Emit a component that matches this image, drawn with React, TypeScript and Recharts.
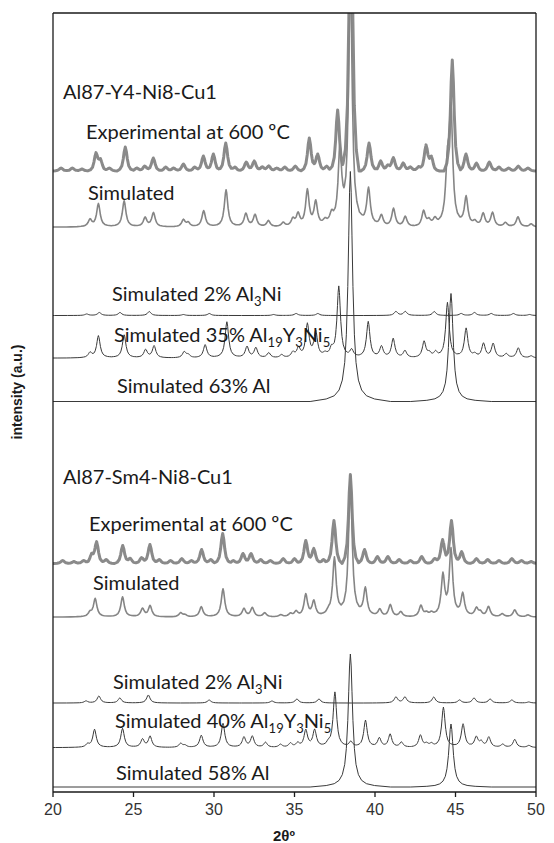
import React from "react";
import { LineChart, Line, XAxis, YAxis, ReferenceLine } from "recharts";

// peak lists: [2θ, height above the trace's own baseline]
const EXP_Y: [number, number][] = [
  [20.5, 3], [21.2, 3], [21.8, 2], [22.67, 17], [22.95, 10], [23.5, 3], [24.49, 24], [25.2, 3],
  [25.7, 5], [26.23, 13], [27.0, 4], [27.5, 3], [28.1, 7], [28.8, 4], [29.34, 15], [29.96, 17],
  [30.73, 28], [31.3, 4], [32.0, 9], [32.5, 10], [33.0, 4], [33.4, 5], [33.9, 3], [34.4, 4],
  [35.05, 5], [35.92, 33], [36.44, 17], [37.0, 5], [37.68, 61], [38.5, 300], [39.63, 28],
  [40.35, 10], [40.8, 5], [41.14, 13], [41.75, 8], [42.2, 4], [42.7, 4], [43.17, 25], [43.5, 13],
  [44.8, 111], [45.65, 17], [46.3, 8], [47.1, 9], [47.7, 4], [48.3, 3], [48.9, 5], [49.5, 3],
];
const SIM_Y: [number, number][] = [
  [22.3, 7], [22.82, 23], [24.42, 26], [25.72, 9], [26.24, 14], [28.1, 7], [28.4, 4], [29.36, 16],
  [30.75, 37], [31.98, 13], [32.55, 12], [33.38, 6], [34.3, 4], [34.9, 7], [35.22, 12], [35.8, 36],
  [36.32, 24], [36.9, 4], [37.3, 9], [37.82, 72], [38.47, 250], [39.6, 36], [40.4, 11], [41.15, 18],
  [41.88, 10], [43.02, 15], [43.35, 5], [43.72, 6], [44.5, 52], [44.72, 110], [45.66, 28], [46.2, 4],
  [46.72, 13], [47.3, 14], [48.1, 4], [48.88, 10], [49.7, 3],
];
const AL3NI_Y: [number, number][] = [
  [22.09, 1.5], [22.88, 3], [24.16, 3], [25.98, 4], [28.1, 1], [29.71, 2], [33.7, 1], [35.1, 2],
  [36.45, 2], [41.3, 4], [41.88, 4], [43.68, 4], [45.35, 2], [46.18, 3], [47.22, 2], [48.6, 2], [49.6, 1],
];
const PHASE35_Y: [number, number][] = [
  [22.3, 5], [22.82, 22], [24.42, 23], [25.75, 8], [26.28, 12], [28.15, 6], [28.4, 3], [29.45, 13],
  [30.8, 36], [32.05, 11], [32.6, 10], [33.4, 5], [34.2, 3], [34.9, 5], [35.25, 9], [35.8, 33],
  [36.32, 25], [36.9, 3], [37.3, 7], [37.75, 71], [38.55, 7], [39.58, 36], [40.4, 11], [41.13, 19],
  [41.86, 7], [43.05, 16], [43.37, 4], [43.76, 5], [44.5, 55], [45.66, 29], [46.2, 3], [46.74, 14],
  [47.34, 14], [48.15, 4], [48.9, 10], [49.7, 2],
];
const AL63_Y: [number, number][] = [[38.47, 230], [44.72, 108]];

const EXP_SM: [number, number][] = [
  [20.6, 3], [21.3, 2], [21.9, 3], [22.4, 8], [22.71, 21], [23.3, 4], [24.33, 18], [24.8, 5],
  [25.5, 6], [26.02, 19], [26.6, 4], [27.3, 3], [28.0, 5], [28.6, 3], [29.23, 14], [29.8, 4],
  [30.54, 30], [31.2, 3], [31.8, 10], [32.3, 10], [32.9, 4], [33.5, 3], [34.3, 5], [35.0, 5],
  [35.7, 23], [36.2, 15], [36.8, 4], [37.45, 43], [38.47, 89], [39.35, 14], [40.15, 7], [40.8, 7],
  [41.5, 4], [42.2, 3], [42.9, 7], [43.7, 5], [44.2, 24], [44.75, 43], [45.38, 12], [46.3, 5],
  [47.0, 4], [47.7, 3], [48.5, 5], [49.1, 3], [49.7, 2],
];
const SIM_SM: [number, number][] = [
  [22.3, 4], [22.62, 18], [24.32, 20], [25.56, 8], [26.03, 11], [27.93, 4], [28.2, 2], [29.21, 10],
  [30.56, 28], [31.86, 8], [32.38, 9], [33.15, 4], [34.15, 2], [34.75, 3], [35.1, 5], [35.7, 22],
  [36.2, 15], [37.1, 3], [37.48, 57], [38.47, 140], [39.4, 27], [40.3, 7], [40.95, 12], [41.6, 5],
  [42.85, 11], [43.2, 3], [43.5, 3], [44.22, 40], [44.72, 66], [45.45, 22], [46.3, 8], [46.55, 4],
  [47.05, 10], [47.9, 3], [48.68, 7], [49.5, 2],
];
const AL3NI_SM: [number, number][] = [
  [22.05, 2], [22.85, 7], [24.15, 5], [25.92, 8], [29.7, 3], [33.6, 2], [35.15, 4], [36.52, 4],
  [41.3, 6], [41.86, 6], [43.65, 6], [45.25, 3], [46.15, 5], [47.15, 4], [48.5, 3], [49.55, 1],
];
const PHASE40_SM: [number, number][] = [
  [22.15, 3], [22.58, 18], [24.32, 19], [25.56, 8], [26.03, 11], [27.93, 4], [28.2, 2], [29.21, 12],
  [30.56, 24], [31.86, 10], [32.38, 11], [33.2, 5], [34.13, 3], [34.75, 4], [35.2, 4], [35.7, 17],
  [36.25, 17], [37.1, 3], [37.51, 55], [38.5, 5], [39.41, 27], [40.27, 9], [40.94, 13], [41.64, 5],
  [42.82, 12], [43.2, 3], [43.5, 3], [44.25, 40], [45.47, 23], [46.29, 10], [46.6, 5], [47.07, 10],
  [47.93, 3], [48.68, 8], [49.56, 2],
];
const AL58_SM: [number, number][] = [[38.47, 133], [44.72, 63]];

// vertical offsets of the stacked patterns (same units as the y axis)
const OFFSETS = [621, 565, 476.5, 434, 390.5, 228.5, 175, 89, 44.5, 5];
const X_TICKS = [20, 25, 30, 35, 40, 45, 50];
const Y_MAX = 779;

// peak profiles (offset in degrees, fraction of the peak height)
const SHARP_D = [0, 0.05, 0.1, 0.16, 0.25, 0.35, 0.5, 0.7, 1.0, 1.5, 2.5];
const SHARP_F = [1, 0.91, 0.72, 0.5, 0.29, 0.17, 0.093, 0.05, 0.025, 0.011, 0];
const BROAD_D = [0, 0.08, 0.15, 0.25, 0.4, 0.6];
const BROAD_F = [1, 0.8, 0.5, 0.22, 0.07, 0];

function shape(d: number, D: number[], F: number[]) {
  const a = Math.abs(d);
  if (a >= D[D.length - 1]) return 0;
  let i = 0;
  while (D[i + 1] <= a) i++;
  const t = (a - D[i]) / (D[i + 1] - D[i]);
  return F[i] + (F[i + 1] - F[i]) * t;
}

function trace(peaks: [number, number][], base: number, D: number[], F: number[], s: number) {
  const xs = new Set<number>([20, 50]);
  peaks.forEach(([p]) => {
    D.forEach((d) => {
      [p - d * s, p + d * s].forEach((x) => {
        if (x >= 20 && x <= 50) xs.add(Math.round(x * 1000) / 1000);
      });
    });
  });
  return Array.from(xs)
    .sort((a, b) => a - b)
    .map((x) => ({
      x,
      y: base + peaks.reduce((acc, [p, h]) => acc + h * shape((x - p) / s, D, F), 0),
    }));
}

const EXP_COLOR = "#8a8a8a";
const SIM_COLOR = "#858585";
const DARK = "#3a3a3a";

const series = [
  { data: trace(EXP_Y, OFFSETS[0], BROAD_D, BROAD_F, 0.85), color: EXP_COLOR, w: 3 },
  { data: trace(EXP_SM, OFFSETS[5], BROAD_D, BROAD_F, 0.85), color: EXP_COLOR, w: 3 },
  { data: trace(SIM_Y, OFFSETS[1], SHARP_D, SHARP_F, 0.8), color: SIM_COLOR, w: 1.6 },
  { data: trace(SIM_SM, OFFSETS[6], SHARP_D, SHARP_F, 0.8), color: SIM_COLOR, w: 1.6 },
  { data: trace(AL3NI_Y, OFFSETS[2], SHARP_D, SHARP_F, 0.8), color: DARK, w: 1 },
  { data: trace(PHASE35_Y, OFFSETS[3], SHARP_D, SHARP_F, 0.8), color: DARK, w: 1 },
  { data: trace(AL63_Y, OFFSETS[4], SHARP_D, SHARP_F, 1), color: DARK, w: 1 },
  { data: trace(AL3NI_SM, OFFSETS[7], SHARP_D, SHARP_F, 0.8), color: DARK, w: 1 },
  { data: trace(PHASE40_SM, OFFSETS[8], SHARP_D, SHARP_F, 0.8), color: DARK, w: 1 },
  { data: trace(AL58_SM, OFFSETS[9], SHARP_D, SHARP_F, 1), color: DARK, w: 1 },
];

const W = 546;
const H = 835;
const LBL = { fontFamily: "Lato, 'Open Sans', sans-serif", fontSize: 20, fill: "#1a1a1a" };
const SUB = 13;

export default function App() {
  return (
    <div style={{ position: "relative", width: W, height: H }}>
      <LineChart width={W} height={H} margin={{ top: 5, right: 18, bottom: 11, left: 45 }}>
        <XAxis
          type="number"
          dataKey="x"
          domain={[20, 50]}
          ticks={X_TICKS}
          allowDataOverflow
          height={40}
          tickSize={5}
          tickMargin={7}
          axisLine={{ stroke: "#1a1a1a", strokeWidth: 1.3 }}
          tickLine={{ stroke: "#1a1a1a", strokeWidth: 1.3 }}
          tick={{ fontSize: 16, fontFamily: "'Liberation Sans', Arial, sans-serif", fill: "#333" }}
        />
        <YAxis hide type="number" domain={[0, Y_MAX]} allowDataOverflow />
        {series.map((s, i) => (
          <Line
            key={i}
            data={s.data}
            dataKey="y"
            type="linear"
            stroke={s.color}
            strokeWidth={s.w}
            dot={false}
            activeDot={false}
            isAnimationActive={false}
            strokeLinejoin="round"
          />
        ))}
        <ReferenceLine x={20} stroke="#1a1a1a" strokeWidth={1.3} />
        <ReferenceLine x={50} stroke="#1a1a1a" strokeWidth={1.3} />
        <ReferenceLine y={Y_MAX} stroke="#1a1a1a" strokeWidth={1.3} />
      </LineChart>
      <svg width={W} height={H} style={{ position: "absolute", left: 0, top: 0, pointerEvents: "none" }}>
        <text x={55} y={91} {...LBL}>Al87-Y4-Ni8-Cu1</text>
        <text x={78} y={131} {...LBL}>Experimental at 600 ºC</text>
        <text x={80} y={192} {...LBL}>Simulated</text>
        <text x={104} y={293} {...LBL}>
          Simulated 2% Al<tspan fontSize={SUB} dy={5}>3</tspan>
          <tspan dy={-5}>Ni</tspan>
        </text>
        <text x={106} y={334} {...LBL}>
          Simulated 35% Al<tspan fontSize={SUB} dy={5}>19</tspan>
          <tspan dy={-5}>Y</tspan>
          <tspan fontSize={SUB} dy={5}>3</tspan>
          <tspan dy={-5}>Ni</tspan>
          <tspan fontSize={SUB} dy={5}>5</tspan>
        </text>
        <text x={109} y={385} {...LBL}>Simulated 63% Al</text>

        <text x={55} y={476} {...LBL}>Al87-Sm4-Ni8-Cu1</text>
        <text x={81} y={523} {...LBL}>Experimental at 600 ºC</text>
        <text x={85} y={582} {...LBL}>Simulated</text>
        <text x={105} y={681} {...LBL}>
          Simulated 2% Al<tspan fontSize={SUB} dy={5}>3</tspan>
          <tspan dy={-5}>Ni</tspan>
        </text>
        <text x={107} y={720} {...LBL}>
          Simulated 40% Al<tspan fontSize={SUB} dy={5}>19</tspan>
          <tspan dy={-5}>Y</tspan>
          <tspan fontSize={SUB} dy={5}>3</tspan>
          <tspan dy={-5}>Ni</tspan>
          <tspan fontSize={SUB} dy={5}>5</tspan>
        </text>
        <text x={108} y={772} {...LBL}>Simulated 58% Al</text>

        <text
          x={276}
          y={833}
          textAnchor="middle"
          fontFamily="'Liberation Sans', Arial, sans-serif"
          fontWeight="bold"
          fontSize={15}
          fill="#1a1a1a"
        >
          2θº
        </text>
        <text
          transform="translate(14 384) rotate(-90)"
          textAnchor="middle"
          fontFamily="'Liberation Sans', Arial, sans-serif"
          fontWeight="bold"
          fontSize={14}
          fill="#1a1a1a"
        >
          intensity (a.u.)
        </text>
      </svg>
    </div>
  );
}
